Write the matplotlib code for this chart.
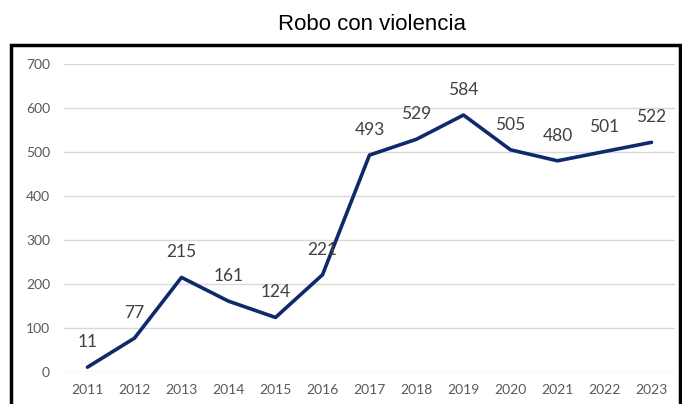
import matplotlib.pyplot as plt
from matplotlib.patches import Rectangle

# Data
years = [2011, 2012, 2013, 2014, 2015, 2016, 2017, 2018, 2019, 2020, 2021, 2022, 2023]
robos = [11, 77, 215, 161, 124, 221, 493, 529, 584, 505, 480, 501, 522]
yticks = [0, 100, 200, 300, 400, 500, 600, 700]

W, H = 682, 404
fig = plt.figure(figsize=(W / 100, H / 100), dpi=100)

# axes placed in pixel coordinates
left, right, top, bottom = 64, 675, 64, 372
ax = fig.add_axes([left / W, 1 - bottom / H, (right - left) / W, (bottom - top) / H])

ax.plot(years, robos, color='#0f2a6b', lw=2.6, solid_capstyle='round', clip_on=False, zorder=3)

for x, y in zip(years, robos):
    ax.annotate(str(y), (x, y), xytext=(0, 18), textcoords='offset points',
                ha='center', va='center', fontsize=12.5, color='#404040', family='Lato')

ax.set_xlim(2010.5, 2023.5)
ax.set_ylim(0, 700)
ax.set_xticks(years)
ax.set_yticks(yticks)
ax.grid(axis='y', color='#d9d9d9', lw=1)
ax.set_axisbelow(True)
for s in ax.spines.values():
    s.set_visible(False)
ax.tick_params(length=0, labelsize=10, labelcolor='#595959')
ax.tick_params(axis='y', pad=10)
ax.tick_params(axis='x', pad=9)
for lab in ax.get_xticklabels() + ax.get_yticklabels():
    lab.set_family('Lato')

# black frame around chart area
fig.patches.append(Rectangle((11 / W, -0.1), (680 - 11) / W, 1 - 45 / H + 0.1,
                             transform=fig.transFigure, fill=False, ec='black', lw=2.5))

fig.text(372 / W, 1 - 25 / H, 'Robo con violencia', ha='center', va='center',
         fontsize=16, family='Liberation Sans', color='black')

fig.savefig('out.png', dpi=100)
